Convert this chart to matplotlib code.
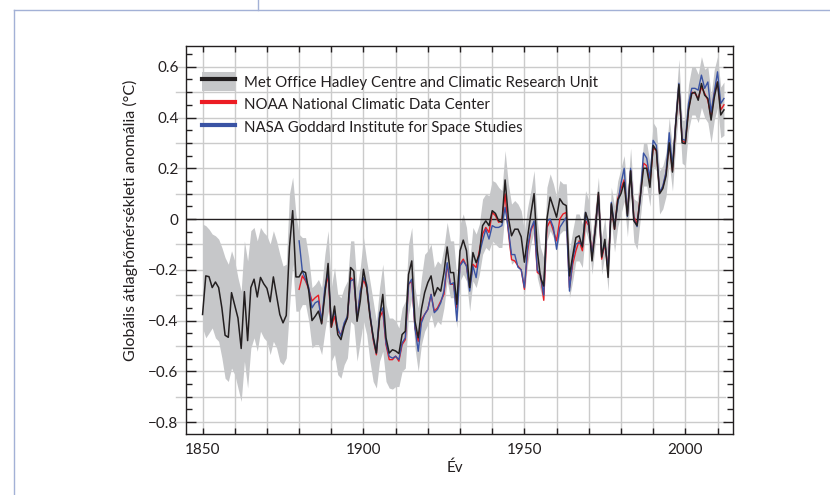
import matplotlib
matplotlib.use('Agg')
import matplotlib.pyplot as plt
from matplotlib.lines import Line2D
from matplotlib.patches import Patch
from matplotlib.legend_handler import HandlerTuple
from matplotlib.ticker import MultipleLocator, FuncFormatter

plt.rcParams['font.family'] = ['Lato', 'DejaVu Sans']

# --- data (anomaly vs 1961-1990, degC) ---
had_years = list(range(1850, 2013))
had = [
    -0.376, -0.224, -0.227, -0.270, -0.248, -0.270, -0.350, -0.458, -0.466, -0.290,   # 1850s
    -0.340, -0.390, -0.510, -0.286, -0.479, -0.270, -0.237, -0.307, -0.230, -0.255,   # 1860s
    -0.273, -0.326, -0.228, -0.303, -0.376, -0.409, -0.380, -0.110, 0.033, -0.228,    # 1870s
    -0.228, -0.205, -0.211, -0.284, -0.400, -0.383, -0.363, -0.413, -0.297, -0.175,   # 1880s
    -0.426, -0.343, -0.455, -0.475, -0.422, -0.389, -0.191, -0.205, -0.403, -0.323,   # 1890s
    -0.198, -0.270, -0.383, -0.462, -0.528, -0.389, -0.297, -0.468, -0.528, -0.515,   # 1900s
    -0.520, -0.530, -0.455, -0.442, -0.218, -0.165, -0.402, -0.468, -0.356, -0.290,   # 1910s
    -0.250, -0.224, -0.303, -0.270, -0.284, -0.211, -0.110, -0.211, -0.211, -0.336,   # 1920s
    -0.125, -0.083, -0.125, -0.270, -0.132, -0.172, -0.139, -0.026, -0.007, -0.026,   # 1930s
    0.033, 0.022, -0.007, -0.013, 0.154, 0.007, -0.066, -0.040, -0.040, -0.070,       # 1940s
    -0.170, -0.070, 0.020, 0.100, -0.125, -0.230, -0.264, 0.000, 0.086, 0.046,        # 1950s
    0.007, 0.080, 0.060, 0.053, -0.224, -0.145, -0.073, -0.066, -0.110, 0.026,        # 1960s
    -0.013, -0.165, -0.046, 0.105, -0.150, -0.080, -0.230, 0.060, -0.040, 0.075,      # 1970s
    0.100, 0.145, 0.013, 0.190, -0.007, -0.026, 0.086, 0.200, 0.200, 0.125,           # 1980s
    0.290, 0.270, 0.100, 0.120, 0.170, 0.300, 0.185, 0.370, 0.530, 0.300,             # 1990s
    0.297, 0.430, 0.495, 0.500, 0.468, 0.534, 0.488, 0.475, 0.390, 0.480,             # 2000s
    0.540, 0.410, 0.430,                                                              # 2010-2012
]
had_hi = [
    -0.020, -0.026, -0.040, -0.059, -0.066, -0.079, -0.112, -0.152, -0.178, -0.125,
    -0.165, -0.231, -0.284, -0.086, -0.165, -0.046, -0.033, -0.086, -0.033, -0.053,
    -0.066, -0.099, -0.046, -0.086, -0.139, -0.185, -0.178, 0.099, 0.165, 0.020,
    -0.060, -0.073, -0.073, -0.152, -0.270, -0.257, -0.238, -0.270, -0.139, -0.046,
    -0.270, -0.191, -0.297, -0.310, -0.270, -0.244, -0.086, -0.086, -0.270, -0.191,
    -0.073, -0.165, -0.244, -0.323, -0.403, -0.270, -0.178, -0.337, -0.390, -0.390,
    -0.402, -0.429, -0.350, -0.323, -0.099, -0.033, -0.270, -0.350, -0.231, -0.139,
    -0.125, -0.099, -0.191, -0.165, -0.178, -0.112, -0.013, -0.086, -0.086, -0.231,
    -0.020, 0.020, -0.033, -0.165, -0.033, -0.059, -0.020, 0.079, 0.099, 0.092,
    0.152, 0.145, 0.125, 0.112, 0.270, 0.139, 0.059, 0.073, 0.059, 0.033,
    -0.046, 0.046, 0.112, 0.191, -0.007, -0.112, -0.152, 0.125, 0.178, 0.139,
    0.086, 0.152, 0.139, 0.139, -0.125, -0.046, 0.020, 0.020, -0.020, 0.112,
    0.073, -0.073, 0.046, 0.165, -0.073, 0.007, -0.139, 0.125, 0.050, 0.150,
    0.200, 0.250, 0.100, 0.280, 0.080, 0.070, 0.170, 0.300, 0.300, 0.220,
    0.380, 0.360, 0.190, 0.210, 0.260, 0.400, 0.280, 0.460, 0.630, 0.390,
    0.390, 0.530, 0.600, 0.600, 0.570, 0.640, 0.590, 0.600, 0.490, 0.590,
    0.640, 0.520, 0.540,
]
had_lo = [
    -0.429, -0.468, -0.449, -0.429, -0.468, -0.482, -0.547, -0.627, -0.640, -0.587,
    -0.613, -0.666, -0.719, -0.561, -0.666, -0.508, -0.468, -0.521, -0.442, -0.468,
    -0.482, -0.534, -0.482, -0.508, -0.561, -0.574, -0.547, -0.350, -0.178, -0.363,
    -0.363, -0.337, -0.337, -0.403, -0.508, -0.495, -0.495, -0.534, -0.442, -0.363,
    -0.560, -0.534, -0.613, -0.627, -0.574, -0.547, -0.403, -0.416, -0.560, -0.482,
    -0.403, -0.455, -0.560, -0.640, -0.666, -0.560, -0.521, -0.640, -0.666, -0.670,
    -0.660, -0.660, -0.600, -0.587, -0.376, -0.310, -0.508, -0.600, -0.495, -0.442,
    -0.416, -0.376, -0.429, -0.402, -0.416, -0.350, -0.244, -0.310, -0.310, -0.429,
    -0.244, -0.218, -0.244, -0.363, -0.244, -0.270, -0.218, -0.139, -0.112, -0.125,
    -0.086, -0.099, -0.112, -0.112, 0.033, -0.099, -0.178, -0.165, -0.178, -0.204,
    -0.297, -0.178, -0.099, -0.046, -0.231, -0.284, -0.323, -0.086, -0.046, -0.073,
    -0.125, -0.059, -0.046, -0.046, -0.310, -0.244, -0.165, -0.165, -0.191, -0.046,
    -0.086, -0.218, -0.099, 0.033, -0.218, -0.139, -0.284, -0.007, -0.130, -0.030,
    0.020, 0.070, -0.070, 0.100, -0.090, -0.120, 0.000, 0.130, 0.130, 0.050,
    0.210, 0.190, 0.020, 0.040, 0.090, 0.220, 0.110, 0.290, 0.440, 0.220,
    0.210, 0.350, 0.410, 0.410, 0.380, 0.440, 0.400, 0.380, 0.300, 0.390,
    0.440, 0.320, 0.330,
]

us_years = list(range(1880, 2013))
noaa = [
    -0.277, -0.224, -0.244, -0.277, -0.323, -0.310, -0.300, -0.409, -0.284, -0.218,   # 1880s
    -0.426, -0.383, -0.442, -0.455, -0.416, -0.389, -0.231, -0.244, -0.389, -0.297,   # 1890s
    -0.238, -0.270, -0.376, -0.475, -0.535, -0.389, -0.363, -0.495, -0.554, -0.554,   # 1900s
    -0.540, -0.560, -0.495, -0.475, -0.257, -0.244, -0.429, -0.482, -0.396, -0.376,   # 1910s
    -0.356, -0.297, -0.363, -0.350, -0.323, -0.297, -0.178, -0.257, -0.257, -0.350,   # 1920s
    -0.178, -0.158, -0.185, -0.270, -0.178, -0.191, -0.125, -0.059, -0.033, -0.053,   # 1930s
    0.026, 0.013, -0.013, -0.007, 0.099, -0.046, -0.160, -0.165, -0.185, -0.200,      # 1940s
    -0.277, -0.125, -0.046, -0.013, -0.210, -0.220, -0.320, -0.033, -0.007, -0.046,   # 1950s
    -0.086, 0.000, 0.020, 0.026, -0.270, -0.178, -0.125, -0.086, -0.125, -0.007,      # 1960s
    -0.026, -0.138, -0.040, 0.099, -0.158, -0.099, -0.191, 0.053, -0.040, 0.080,      # 1970s
    0.120, 0.155, 0.020, 0.190, 0.010, -0.020, 0.090, 0.220, 0.210, 0.140,            # 1980s
    0.280, 0.270, 0.105, 0.125, 0.180, 0.300, 0.190, 0.375, 0.520, 0.310,             # 1990s
    0.300, 0.435, 0.500, 0.495, 0.475, 0.520, 0.495, 0.468, 0.400, 0.495,             # 2000s
    0.540, 0.430, 0.450,                                                              # 2010-2012
]
nasa = [
    -0.086, -0.205, -0.237, -0.270, -0.350, -0.330, -0.323, -0.402, -0.270, -0.205,   # 1880s
    -0.409, -0.363, -0.429, -0.462, -0.409, -0.383, -0.244, -0.237, -0.396, -0.284,   # 1890s
    -0.231, -0.257, -0.370, -0.468, -0.528, -0.370, -0.350, -0.488, -0.541, -0.548,   # 1900s
    -0.541, -0.554, -0.488, -0.468, -0.257, -0.237, -0.429, -0.521, -0.409, -0.376,   # 1910s
    -0.356, -0.297, -0.369, -0.356, -0.330, -0.284, -0.172, -0.257, -0.251, -0.402,   # 1920s
    -0.185, -0.165, -0.185, -0.284, -0.185, -0.231, -0.139, -0.086, -0.040, -0.079,   # 1930s
    -0.026, -0.033, -0.033, -0.026, 0.046, -0.040, -0.140, -0.140, -0.190, -0.200,    # 1940s
    -0.270, -0.110, -0.040, -0.007, -0.200, -0.220, -0.300, -0.007, 0.000, -0.033,    # 1950s
    -0.119, -0.033, -0.013, 0.007, -0.284, -0.158, -0.099, -0.092, -0.105, 0.026,     # 1960s
    -0.026, -0.145, -0.040, 0.092, -0.145, -0.092, -0.204, 0.066, -0.030, 0.060,      # 1970s
    0.140, 0.200, 0.010, 0.200, 0.000, -0.030, 0.080, 0.260, 0.240, 0.160,            # 1980s
    0.310, 0.290, 0.105, 0.130, 0.185, 0.340, 0.205, 0.380, 0.535, 0.315,             # 1990s
    0.310, 0.455, 0.515, 0.515, 0.508, 0.567, 0.515, 0.540, 0.420, 0.500,             # 2000s
    0.580, 0.455, 0.475,                                                              # 2010-2012
]

xticks = list(range(1850, 2011, 10))
xticklabels = ['1850', '', '', '', '', '1900', '', '', '', '', '1950', '', '', '', '', '2000', '']
yticks = [0.6, 0.4, 0.2, 0.0, -0.2, -0.4, -0.6, -0.8]
ygrid = [0.6, 0.5, 0.4, 0.3, 0.2, 0.1, -0.1, -0.2, -0.3, -0.4, -0.5, -0.6, -0.7, -0.8]

labels = ['Met Office Hadley Centre and Climatic Research Unit',
          'NOAA National Climatic Data Center',
          'NASA Goddard Institute for Space Studies']

band_col = '#c6c7c9'
black = '#231f20'
red = '#ec1c24'
blue = '#3a53a4'
grid_col = '#cbcbcb'

fig = plt.figure(figsize=(8.3, 4.95), dpi=100)

# page frame lines from the source document
page = '#a3b1d6'
fig.add_artist(Line2D([14 / 830, 1.0], [1 - 9.5 / 495] * 2, color=page, lw=1))
fig.add_artist(Line2D([258 / 830] * 2, [1.0, 1 - 9.5 / 495], color=page, lw=1))
fig.add_artist(Line2D([14 / 830] * 2, [1 - 9.5 / 495, 0.0], color=page, lw=1))

ax = fig.add_axes([0.2235, 0.1232, 0.6596, 0.7845])

ax.set_xlim(1844.7, 2014.8)
ax.set_ylim(-0.847, 0.683)

# grid
for x in xticks:
    ax.axvline(x, color=grid_col, lw=1.0, zorder=0)
for y in ygrid:
    ax.axhline(y, xmin=-0.017, xmax=0.985, color=grid_col, lw=1.0, zorder=0, clip_on=False)

ax.fill_between(had_years, had_lo, had_hi, color=band_col, lw=0, zorder=1)
ax.axhline(0, color=black, lw=1.0, zorder=2)
ax.plot(us_years, noaa, color=red, lw=1.0, zorder=3)
ax.plot(us_years, nasa, color=blue, lw=1.0, zorder=4)
ax.plot(had_years, had, color=black, lw=1.1, zorder=5)

ax.set_xticks(xticks)
ax.set_xticklabels(xticklabels)
ax.set_yticks(yticks)
ax.yaxis.set_minor_locator(MultipleLocator(0.05))
ax.yaxis.set_major_formatter(FuncFormatter(
    lambda v, p: '0' if abs(v) < 1e-9 else f'{v:.1f}'.replace('-', '\u2212')))

ax.tick_params(axis='both', which='both', direction='in', top=True, right=True,
               color=black, width=1.0, labelsize=11, labelcolor='#231f20')
ax.tick_params(axis='x', which='major', length=4.5, pad=6.5)
ax.tick_params(axis='y', which='major', length=7, pad=5)
ax.tick_params(axis='y', which='minor', length=4)
for s in ax.spines.values():
    s.set_color(black)
    s.set_linewidth(1.0)

ax.set_xlabel('Év', fontsize=11, color='#231f20')
ax.set_ylabel('Globális átlaghőmérsékleti anomália (°C)', fontsize=11.5, color='#231f20')
ax.xaxis.set_label_coords(0.492, -0.067)
ax.yaxis.set_label_coords(-0.087, 0.551)

handles = [
    (Patch(facecolor=band_col, edgecolor='none'), Line2D([], [], color=black, lw=3)),
    Line2D([], [], color=red, lw=3),
    Line2D([], [], color=blue, lw=3),
]
leg = ax.legend(handles, labels, loc='upper left', bbox_to_anchor=(0.0296, 0.932),
                frameon=False, fontsize=10.8, borderpad=0, borderaxespad=0,
                handlelength=2.2, handleheight=1.6, handletextpad=0.65, labelspacing=0.22,
                handler_map={tuple: HandlerTuple(ndivide=1, pad=0)})
for t in leg.get_texts():
    t.set_color('#231f20')

fig.savefig('out.png', dpi=100)
